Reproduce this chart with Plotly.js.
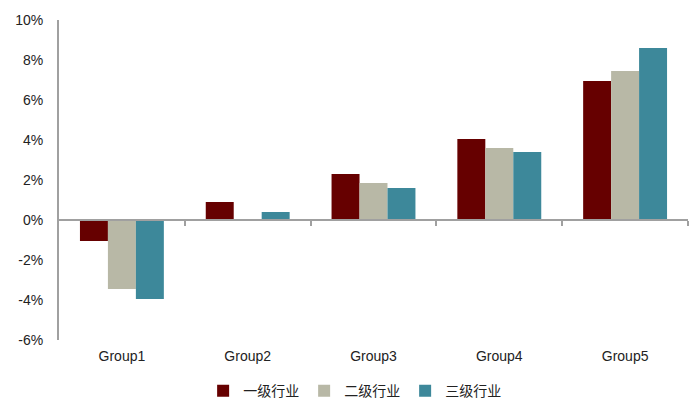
<!DOCTYPE html>
<html><head><meta charset="utf-8">
<script src="https://cdn.plot.ly/plotly-3.0.1.min.js"></script>
<style>body{margin:0;background:#fff}#c{width:698px;height:411px}</style>
</head><body><div id="c"></div>
<script>
const categories = ["Group1","Group2","Group3","Group4","Group5"];
const seriesNames = ["一级行业","二级行业","三级行业"];
const level1 = [-1.05, 0.9, 2.3, 4.05, 6.95];
const level2 = [-3.45, 0.0, 1.85, 3.6, 7.45];
const level3 = [-3.95, 0.4, 1.6, 3.4, 8.6];
const yTicks = [-6,-4,-2,0,2,4,6,8,10];
const colors = ["#660000","#B8B8A6","#3D889A"];
const boundaries = [0.5,1.5,2.5,3.5,4.5];

const series = [level1, level2, level3];
const traces = series.map((v,i)=>({
  type:'bar', x:categories, y:v, name:seriesNames[i],
  marker:{color:colors[i], line:{width:0}}, hoverinfo:'skip'
}));
traces.push({type:'scatter', x:[-0.5,4.5], y:[0,0], xaxis:'x2', mode:'none', showlegend:false, hoverinfo:'skip'});

const yMin=-6, yMax=10;
Plotly.newPlot('c', traces, {
  width:698, height:411,
  margin:{l:59, r:10, t:20, b:71, autoexpand:false},
  paper_bgcolor:'#fff', plot_bgcolor:'#fff',
  font:{family:'Liberation Sans, Arial, sans-serif', size:14, color:'#222'},
  barmode:'group', bargap:0.333, bargroupgap:0,
  showlegend:true,
  legend:{orientation:'h', x:0.47, xanchor:'center', y:-0.11, yanchor:'top',
    font:{family:'Noto Sans CJK SC, sans-serif', size:14, color:'#222'}, itemwidth:30,
    entrywidth:56, traceorder:'normal'},
  xaxis:{type:'category', range:[-0.5,4.5], showline:false, ticks:'', showgrid:false, zeroline:false,
    ticklabelstandoff:6, tickfont:{size:14}},
  xaxis2:{overlaying:'x', anchor:'free', position:(0-yMin)/(yMax-yMin), range:[-0.5,4.5],
    showline:true, linecolor:'#A0A0A0', linewidth:2, ticks:'outside', ticklen:5, tickwidth:2, tickcolor:'#A0A0A0',
    tickvals:boundaries, showticklabels:false, showgrid:false, zeroline:false, side:'bottom'},
  yaxis:{range:[yMin,yMax], tickvals:yTicks, ticktext:yTicks.map(t=>t+'%'), showgrid:false,
    zeroline:false, showline:true, linecolor:'#A0A0A0', linewidth:2, ticks:'', ticklen:0,
    ticklabelstandoff:11, tickfont:{size:14}}
}, {displayModeBar:false, staticPlot:true});
</script></body></html>
